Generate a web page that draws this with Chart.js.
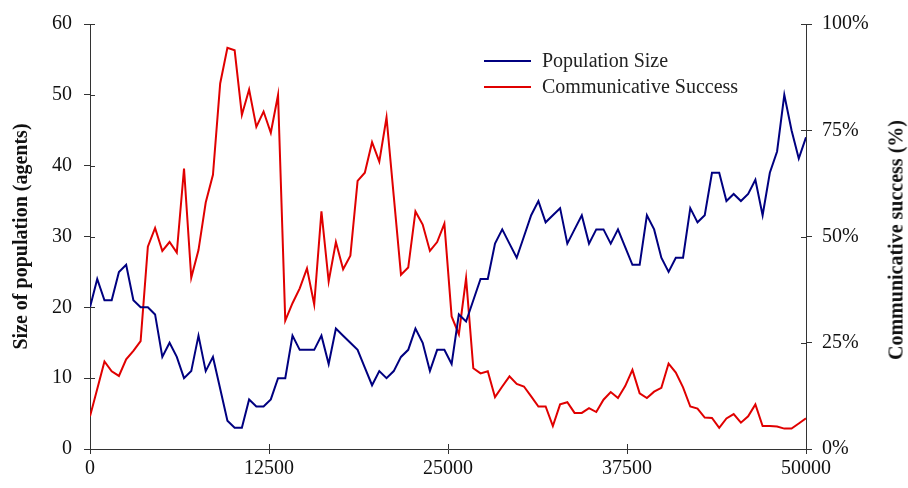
<!DOCTYPE html>
<html>
<head>
<meta charset="utf-8">
<script src="https://cdn.jsdelivr.net/npm/chart.js@4"></script>
<style>
  body { margin: 0; background: #fff; }
  #wrap { position: relative; width: 908px; height: 488px; }
  #legend { position: absolute; left: 484px; top: 47px; font: 20px 'Liberation Serif', 'Times New Roman', serif; color: #222; }
  #legend div { height: 26px; line-height: 26px; white-space: nowrap; }
  #legend span.sw { display: inline-block; width: 47px; height: 2px; vertical-align: middle; margin-right: 11px; position: relative; top: -1px; }
  #rtitle { position: absolute; left: 896px; top: 240px; transform: translate(-50%, -50%) rotate(-90deg);
    font: bold 20px 'Liberation Serif', 'Times New Roman', serif; color: #111; white-space: nowrap; }
</style>
</head>
<body>
<div id="wrap">
  <canvas id="chart_population" width="908" height="488"></canvas>
  <div id="legend">
    <div><span class="sw" style="background:#000080"></span>Population Size</div>
    <div><span class="sw" style="background:#e00000"></span>Communicative Success</div>
  </div>
  <div id="rtitle">Communicative success (%)</div>
</div>
<script>
// 100 samples evenly spread over the 0..50000 interactions
const iterations = Array.from({ length: 100 }, (_, i) => Math.round(i * 50000 / 99));

const populationSize = [
    20, 24, 21, 21, 25, 26, 21, 20, 20, 19,
    13, 15, 13, 10, 11, 16, 11, 13, 8.5, 4,
    3, 3, 7, 6, 6, 7, 10, 10, 16, 14,
    14, 14, 16, 12, 17, 16, 15, 14, 11.5, 9,
    11, 10, 11, 13, 14, 17, 15, 11, 14, 14,
    12, 19, 18, 21, 24, 24, 29, 31, 29, 27,
    30, 33, 35, 32, 33, 34, 29, 31, 33, 29,
    31, 31, 29, 31, 28.5, 26, 26, 33, 31, 27,
    25, 27, 27, 34, 32, 33, 39, 39, 35, 36,
    35, 36, 38, 33, 39, 42, 50, 45, 41, 44
];

const commSuccess = [
    7.7, 14.1, 20.6, 18.3, 17.2, 21.1, 23.1, 25.4, 47.6, 52.0,
    46.6, 48.7, 46.2, 66.0, 40.3, 46.8, 58.0, 64.5, 86.0, 94.4,
    93.8, 78.6, 84.6, 75.8, 79.4, 74.4, 83.3, 30.2, 34.3, 37.8,
    42.5, 34.0, 55.9, 39.4, 48.7, 42.3, 45.5, 63.1, 65.0, 72.2,
    67.6, 78.0, 59.5, 41.0, 42.7, 55.9, 52.8, 46.6, 48.7, 53.0,
    31.2, 27.0, 40.2, 19.0, 17.8, 18.3, 12.2, 14.7, 17.1, 15.3,
    14.7, 12.4, 10.0, 10.0, 5.4, 10.5, 11.0, 8.5, 8.5, 9.6,
    8.7, 11.6, 13.4, 12.0, 14.8, 18.6, 13.1, 12.0, 13.5, 14.4,
    20.1, 18.0, 14.5, 10.0, 9.5, 7.4, 7.3, 5.0, 7.2, 8.2,
    6.2, 7.7, 10.5, 5.4, 5.4, 5.3, 4.8, 4.8, 6.0, 7.2
];

const xTicks = [0, 12500, 25000, 37500, 50000];

const serif = "'Liberation Serif', 'Times New Roman', serif";
const axisColor = '#333';

// ticks in the reference cross the axis line, chart.js only draws the outer half
const crossTicks = {
    id: 'crossTicks',
    afterDraw(chart) {
        const ctx = chart.ctx, a = chart.chartArea;
        ctx.save();
        ctx.strokeStyle = axisColor;
        ctx.lineWidth = 1;
        ['x', 'y', 'y1'].forEach(id => {
            const s = chart.scales[id];
            s.ticks.forEach((t, i) => {
                const p = Math.round(s.getPixelForTick(i)) + 0.5;
                ctx.beginPath();
                if (id === 'x') { ctx.moveTo(p, a.bottom); ctx.lineTo(p, a.bottom - 5); }
                else if (id === 'y') { ctx.moveTo(a.left, p); ctx.lineTo(a.left + 5, p); }
                else { ctx.moveTo(a.right, p); ctx.lineTo(a.right - 5, p); }
                ctx.stroke();
            });
        });
        ctx.restore();
    }
};

const config_population = {
    type: 'line',
    data: {
        datasets: [{
            label: 'Population Size',
            data: iterations.map((x, i) => ({ x: x, y: populationSize[i] })),
            borderColor: '#000080',
            backgroundColor: '#000080',
            borderWidth: 2,
            pointRadius: 0,
            tension: 0,
            yAxisID: 'y'
        }, {
            label: 'Communicative Success',
            data: iterations.map((x, i) => ({ x: x, y: commSuccess[i] })),
            borderColor: '#e00000',
            backgroundColor: '#e00000',
            borderWidth: 2,
            pointRadius: 0,
            tension: 0,
            yAxisID: 'y1'
        }]
    },
    options: {
        responsive: false,
        animation: false,
        layout: { padding: { top: 20, bottom: 0, left: 0, right: 0 } },
        plugins: {
            legend: { display: false },
            tooltip: { enabled: false }
        },
        scales: {
            x: {
                type: 'linear',
                min: 0,
                max: 50000,
                afterBuildTicks: scale => { scale.ticks = xTicks.map(v => ({ value: v })); },
                afterFit: scale => { scale.height = 39; },
                grid: { drawOnChartArea: false, color: axisColor, tickLength: 5 },
                border: { color: axisColor },
                ticks: {
                    color: '#111',
                    font: { family: serif, size: 20 },
                    padding: 3,
                    maxRotation: 0,
                    callback: v => String(v)
                }
            },
            y: {
                position: 'left',
                min: 0,
                max: 60,
                afterFit: scale => { scale.width = 90; },
                grid: { drawOnChartArea: false, color: axisColor, tickLength: 6 },
                border: { color: axisColor },
                ticks: { stepSize: 10, color: '#111', font: { family: serif, size: 20 }, padding: 12 },
                title: {
                    display: true,
                    text: 'Size of population (agents)',
                    color: '#111',
                    font: { family: serif, size: 20, weight: 'bold' },
                    padding: { top: 10, bottom: 0 }
                }
            },
            y1: {
                position: 'right',
                min: 0,
                max: 100,
                afterFit: scale => { scale.width = 102; },
                grid: { drawOnChartArea: false, color: axisColor, tickLength: 6 },
                border: { color: axisColor },
                ticks: {
                    stepSize: 25,
                    color: '#111',
                    font: { family: serif, size: 20 },
                    padding: 10,
                    callback: v => v + '%'
                }
            }
        }
    },
    plugins: [crossTicks]
};

const myChart_population = new Chart(document.getElementById('chart_population'), config_population);
</script>
</body>
</html>
